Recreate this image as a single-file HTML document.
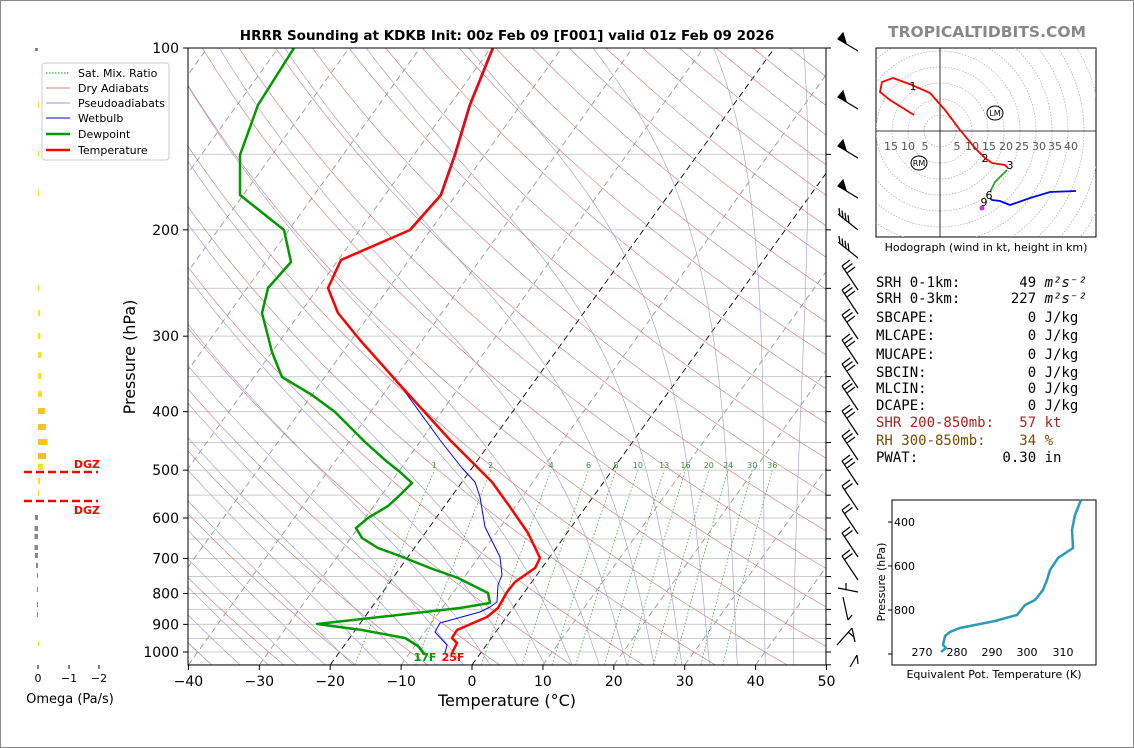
<!DOCTYPE html>
<html><head><meta charset="utf-8"><style>
body{margin:0;background:#fff;width:1134px;height:748px;overflow:hidden;font-family:"Liberation Sans",sans-serif}
svg{position:absolute;left:0;top:0}
.t{font-family:"DejaVu Sans","Liberation Sans",sans-serif}
.m{font-family:"DejaVu Sans Mono","Liberation Mono",monospace;font-size:14px}
</style></head><body>
<svg id="s" width="1134" height="748" xmlns="http://www.w3.org/2000/svg">
<rect x="0.5" y="0.5" width="1133" height="747" fill="#fff" stroke="#888"/>
<defs><clipPath id="c"><rect x="188" y="48" width="638" height="617"/></clipPath></defs>
<g id="bg" clip-path="url(#c)"></g>
<g id="fg" clip-path="url(#c)" fill="none" stroke-linejoin="round">
<polyline stroke="#00f" stroke-width="1" points="492,48 469,105 454,155 440,195 409,230 341,260 328,288 338,313 360,340 400,385 440,440 462,468 475,482 480,497 485,527 500,557 502,575 498,585 497,602 490,607 480,612 458,618 440,623 435,632 447,645 445,653"/>
<polyline stroke="#090" stroke-width="2.5" points="294,48 258,105 240,155 240,195 284,230 291,262 268,288 262,313 272,352 282,377 312,395 335,412 365,442 385,460 400,472 412,483 400,495 388,506 368,518 356,528 362,538 378,548 400,556 430,568 458,578 488,593 490,603 460,608 398,615 317,624 362,630 405,638 418,646 425,655"/>
<polyline stroke="#f00" stroke-width="2.5" points="493,48 470,105 455,155 441,195 410,230 341,260 328,288 338,313 360,340 400,385 450,440 492,482 510,507 528,533 540,558 535,568 515,582 507,592 498,608 487,617 457,630 452,638 457,643 452,653"/>
</g>
<rect x="188" y="48" width="638" height="617" fill="none" stroke="#000"/>
<g id="ax" class="t" font-size="14" fill="#000"></g>
<text x="507" y="40" text-anchor="middle" class="t" font-size="13.5" font-weight="bold">HRRR Sounding at KDKB Init: 00z Feb 09 [F001] valid 01z Feb 09 2026</text>
<text x="507" y="706" text-anchor="middle" class="t" font-size="16">Temperature (°C)</text>
<text transform="translate(135,357) rotate(-90)" text-anchor="middle" class="t" font-size="16">Pressure (hPa)</text>
<text x="425" y="661" font-size="11" font-weight="bold" fill="#090" text-anchor="middle" class="t">17F</text>
<text x="453" y="661" font-size="11" font-weight="bold" fill="#f00" text-anchor="middle" class="t">25F</text>
<g class="t" font-size="11">
<rect x="42" y="63" width="127" height="97" rx="3" fill="#fff" stroke="#ccc"/>
<line x1="46" y1="73" x2="70" y2="73" stroke="#090" stroke-dasharray="1.5,1.5"/><text x="78" y="77">Sat. Mix. Ratio</text>
<line x1="46" y1="88" x2="70" y2="88" stroke="#c88"/><text x="78" y="92">Dry Adiabats</text>
<line x1="46" y1="103" x2="70" y2="103" stroke="#99c"/><text x="78" y="107">Pseudoadiabats</text>
<line x1="46" y1="118" x2="70" y2="118" stroke="#00f"/><text x="78" y="122">Wetbulb</text>
<line x1="46" y1="134" x2="70" y2="134" stroke="#090" stroke-width="2.5"/><text x="78" y="138">Dewpoint</text>
<line x1="46" y1="150" x2="70" y2="150" stroke="#f00" stroke-width="2.5"/><text x="78" y="154">Temperature</text>
</g>
<g id="om"></g>
<line x1="24" y1="472" x2="98" y2="472" stroke="#f00" stroke-width="2.5" stroke-dasharray="8,4"/>
<line x1="24" y1="501" x2="98" y2="501" stroke="#f00" stroke-width="2.5" stroke-dasharray="8,4"/>
<text x="100" y="468" font-size="11" font-weight="bold" fill="#f00" text-anchor="end" class="t">DGZ</text>
<text x="100" y="514" font-size="11" font-weight="bold" fill="#f00" text-anchor="end" class="t">DGZ</text>
<g class="t" font-size="11"><line x1="38" y1="665" x2="38" y2="669" stroke="#000"/><line x1="69" y1="665" x2="69" y2="669" stroke="#000"/><line x1="99" y1="665" x2="99" y2="669" stroke="#000"/>
<text x="38" y="682" text-anchor="middle">0</text><text x="69" y="682" text-anchor="middle">−1</text><text x="99" y="682" text-anchor="middle">−2</text></g>
<text x="70" y="703" text-anchor="middle" class="t" font-size="13">Omega (Pa/s)</text>
<g id="wb" stroke="#000" stroke-width="1.2" fill="#000"></g>
<text x="987" y="37" text-anchor="middle" font-size="15.5" font-weight="bold" fill="#888" class="t">TROPICALTIDBITS.COM</text>
<rect x="876" y="48" width="220" height="189" fill="#fff" stroke="#000"/>
<defs><clipPath id="h"><rect x="876" y="48" width="220" height="189"/></clipPath></defs>
<g id="hg" clip-path="url(#h)"></g>
<g clip-path="url(#h)" fill="none" stroke-width="1.8">
<line x1="876" y1="131" x2="1096" y2="131" stroke="#000" stroke-width="0.8"/>
<line x1="940" y1="48" x2="940" y2="237" stroke="#000" stroke-width="0.8"/>
<polyline stroke="#f00" points="914,115 890,100 880,92 882,82 893,78 912,85 930,93 945,110 960,130 975,148 985,158 992,163 1005,165 1008,168"/>
<polyline stroke="#2a2" points="1007,170 995,182 990,192"/>
<polyline stroke="#00f" points="990,198 992,200 1000,201 1010,205 1030,198 1050,192 1076,191"/>
<circle cx="982" cy="208" r="2.5" fill="#c3c" stroke="none"/>
</g>
<g class="t" font-size="11" fill="#555">
<text x="891" y="150" text-anchor="middle">15</text><text x="908" y="150" text-anchor="middle">10</text><text x="925" y="150" text-anchor="middle">5</text>
<text x="957" y="150" text-anchor="middle">5</text><text x="972" y="150" text-anchor="middle">10</text><text x="989" y="150" text-anchor="middle">15</text><text x="1006" y="150" text-anchor="middle">20</text><text x="1022" y="150" text-anchor="middle">25</text><text x="1039" y="150" text-anchor="middle">30</text><text x="1055" y="150" text-anchor="middle">35</text><text x="1071" y="150" text-anchor="middle">40</text>
</g>
<g class="t" font-size="11" fill="#000"><text x="913" y="90" text-anchor="middle">1</text><text x="985" y="162" text-anchor="middle">2</text><text x="1010" y="169" text-anchor="middle">3</text><text x="989" y="199" text-anchor="middle">6</text><text x="984" y="206" text-anchor="middle">9</text></g>
<g class="t" font-size="8"><ellipse cx="995" cy="113" rx="8" ry="7" fill="none" stroke="#000"/><text x="995" y="116" text-anchor="middle">LM</text>
<ellipse cx="919" cy="163" rx="8" ry="7" fill="none" stroke="#000"/><text x="919" y="166" text-anchor="middle">RM</text></g>
<text x="986" y="251" text-anchor="middle" class="t" font-size="11">Hodograph (wind in kt, height in km)</text>
<g class="m">
<text x="876" y="287" xml:space="preserve">SRH 0-1km:       49 <tspan font-style="italic">m²s⁻²</tspan></text>
<text x="876" y="303" xml:space="preserve">SRH 0-3km:      227 <tspan font-style="italic">m²s⁻²</tspan></text>
<text x="876" y="322" xml:space="preserve">SBCAPE:           0 J/kg</text>
<text x="876" y="340" xml:space="preserve">MLCAPE:           0 J/kg</text>
<text x="876" y="359" xml:space="preserve">MUCAPE:           0 J/kg</text>
<text x="876" y="377" xml:space="preserve">SBCIN:            0 J/kg</text>
<text x="876" y="393" xml:space="preserve">MLCIN:            0 J/kg</text>
<text x="876" y="410" xml:space="preserve">DCAPE:            0 J/kg</text>
<text x="876" y="427" fill="#a22" xml:space="preserve">SHR 200-850mb:   57 kt</text>
<text x="876" y="445" fill="#7a4a00" xml:space="preserve">RH 300-850mb:    34 %</text>
<text x="876" y="462" xml:space="preserve">PWAT:          0.30 in</text>
</g>
<rect x="892" y="500" width="204" height="165" fill="#fff" stroke="#000"/>
<polyline fill="none" stroke="#2b9ab8" stroke-width="2.5" points="1081,500 1075,515 1072,530 1073,548 1058,558 1050,570 1047,580 1043,590 1035,600 1025,605 1017,615 995,621 960,628 950,632 945,636 943,645 946,648 941,652"/>
<g class="t" font-size="11">
<line x1="888" y1="522" x2="892" y2="522" stroke="#000"/><text x="915" y="526" text-anchor="end">400</text>
<line x1="888" y1="566" x2="892" y2="566" stroke="#000"/><text x="915" y="570" text-anchor="end">600</text>
<line x1="888" y1="610" x2="892" y2="610" stroke="#000"/><text x="915" y="614" text-anchor="end">800</text>
<line x1="888" y1="654" x2="892" y2="654" stroke="#000"/>
<text x="922" y="656" text-anchor="middle">270</text><text x="957" y="656" text-anchor="middle">280</text><text x="992" y="656" text-anchor="middle">290</text><text x="1027" y="656" text-anchor="middle">300</text><text x="1063" y="656" text-anchor="middle">310</text>
<text x="994" y="678" text-anchor="middle">Equivalent Pot. Temperature (K)</text>
<text transform="translate(885,582) rotate(-90)" text-anchor="middle">Pressure (hPa)</text>
</g>
</svg>
<script>
var NS="http://www.w3.org/2000/svg";
function el(p,t,a){var e=document.createElementNS(NS,t);for(var k in a)e.setAttribute(k,a[k]);p.appendChild(e);return e}
function Y(p){return 48+Math.log10(p/100)*604}
function X(T,y){return 472+T*7.09+(665-y)*0.72}
var bg=document.getElementById('bg');
for(var p=100;p<=1050;p+=50){var y=Y(p);el(bg,'line',{x1:188,x2:826,y1:y,y2:y,stroke:'#ccc','stroke-width':1})}
for(var T=-150;T<=50;T+=10){var blk=(T==0||T==-20);el(bg,'line',{x1:X(T,665),y1:665,x2:X(T,48),y2:48,stroke:blk?'#000':'#999','stroke-width':0.9,'stroke-dasharray':'6,4'})}
function poly(pts,st,w,da){var s=pts.map(function(q){return q[0].toFixed(1)+','+q[1].toFixed(1)}).join(' ');var a={points:s,fill:'none',stroke:st,'stroke-width':w};if(da)a['stroke-dasharray']=da;el(bg,'polyline',a)}
for(var th=-40;th<=250;th+=10){var pts=[];for(var p=1050;p>=100;p-=10){var T=(th+273.15)*Math.pow(p/1000,0.286)-273.15;var y=Y(p);pts.push([X(T,y),y])}poly(pts,'#c77',0.6)}
function es(T){return 6.112*Math.exp(17.67*T/(T+243.5))}
function dTdp(Tk,p){var rs=0.622*es(Tk-273.15)/(p-es(Tk-273.15));var Lv=2.5e6,Rd=287,cp=1004;return (Rd*Tk+Lv*rs)/(cp+Lv*Lv*rs*0.622/(Rd*Tk*Tk))/p}
for(var t0=-40;t0<=44;t0+=4){var pts=[];var Tk=t0+273.15;
 var Tb=Tk+dTdp(Tk,1000)*50;pts.push([X(Tb-273.15,Y(1050)),Y(1050)]);
 for(var p=1000;p>=100;p-=5){pts.push([X(Tk-273.15,Y(p)),Y(p)]);Tk-=dTdp(Tk,p)*5}
 poly(pts,'#99c',0.6)}
var ws=[1,2,4,6,8,10,13,16,20,24,30,36];
ws.forEach(function(w){var pts=[];for(var p=1050;p>=500;p-=10){var e=w*p/(622+w);var l=Math.log(e/6.112);var T=243.5*l/(17.67-l);var y=Y(p);pts.push([X(T,y),y])}poly(pts,'#393',0.7,'1.5,2');
 var e=w*500/(622+w),l=Math.log(e/6.112),T=243.5*l/(17.67-l);var t=el(bg,'text',{x:X(T,Y(500)),y:Y(500)-2,'font-size':8,fill:'#393','text-anchor':'middle','font-family':'DejaVu Sans'});t.textContent=w});
var ax=document.getElementById('ax');
[100,200,300,400,500,600,700,800,900,1000].forEach(function(p){var y=Y(p);el(ax,'line',{x1:183,x2:188,y1:y,y2:y,stroke:'#000'});var t=el(ax,'text',{x:179,y:y+5,'text-anchor':'end'});t.textContent=p});
for(var p=100;p<=1050;p+=50){var y=Y(p);el(ax,'line',{x1:826,x2:831,y1:y,y2:y,stroke:'#000'})}
for(var T=-40;T<=50;T+=10){var x=472+T*7.09;el(ax,'line',{x1:x,x2:x,y1:665,y2:670,stroke:'#000'});var t=el(ax,'text',{x:x,y:686,'text-anchor':'middle'});t.textContent=(T<0?'−'+(-T):T)}
var om=document.getElementById('om');
el(om,'rect',{x:35,y:48,width:3,height:3,fill:'#888'});
[[105,1.2],[154,1.2],[193,1.2],[288,1.5],[313,2],[336,2.5],[355,3.5],[376,3.5],[394,4],[411,7],[427,8],[442,9.5],[456,8],[467,5],[481,2],[493,1]].forEach(function(b){el(om,'rect',{x:38,y:b[0]-3,width:b[1],height:6,fill:b[1]>5?'#fbc02d':'#f7e02a'})});
[[518,3],[529,3.5],[537,3.5],[548,3.5],[556,3],[566,2],[576,1],[590,1],[605,1],[615,1]].forEach(function(b){el(om,'rect',{x:38-b[1],y:b[0]-3,width:b[1],height:5,fill:'#888'})});
el(om,'rect',{x:38,y:641,width:1.5,height:5,fill:'#f7e02a'});
var wb=document.getElementById('wb');
[45,103,152,192].forEach(function(y){el(wb,'line',{x1:838,y1:y-6,x2:858,y2:y+6});el(wb,'polygon',{points:(838)+','+(y-6)+' '+(843)+','+(y-12)+' '+(846)+','+(y-2)})});
[222,250].forEach(function(y){el(wb,'line',{x1:838,y1:y-8,x2:858,y2:y+8});for(var i=0;i<4;i++){var x=840+i*3,yy=y-6+i*2.4;el(wb,'line',{x1:x,y1:yy,x2:x-1,y2:yy-8})}});
[278,302,327,352,376,398,423,448,473,498,522,545,568].forEach(function(y,i){el(wb,'line',{x1:842,y1:y-12,x2:858,y2:y+12});var n=i<9?3:2;for(var k=0;k<n;k++){var x=842+k*2.5,yy=y-12+k*3.5;el(wb,'line',{x1:x,y1:yy,x2:x+8,y2:yy-6})}});
el(wb,'line',{x1:838,y1:588,x2:858,y2:592});el(wb,'line',{x1:846,y1:590,x2:846,y2:583});
el(wb,'line',{x1:843,y1:597,x2:848,y2:620});el(wb,'line',{x1:848,y1:620,x2:852,y2:615});
el(wb,'line',{x1:837,y1:645,x2:852,y2:628});el(wb,'line',{x1:852,y1:628,x2:855,y2:642});el(wb,'line',{x1:848,y1:632,x2:854,y2:637});
el(wb,'line',{x1:850,y1:667,x2:857,y2:655});el(wb,'line',{x1:857,y1:655,x2:858,y2:664});
var hg=document.getElementById('hg');
for(var r=16;r<=200;r+=16)el(hg,'circle',{cx:940,cy:131,r:r,fill:'none',stroke:'#aaa','stroke-width':0.7,'stroke-dasharray':'1.5,1.5'});
</script>
</body></html>
